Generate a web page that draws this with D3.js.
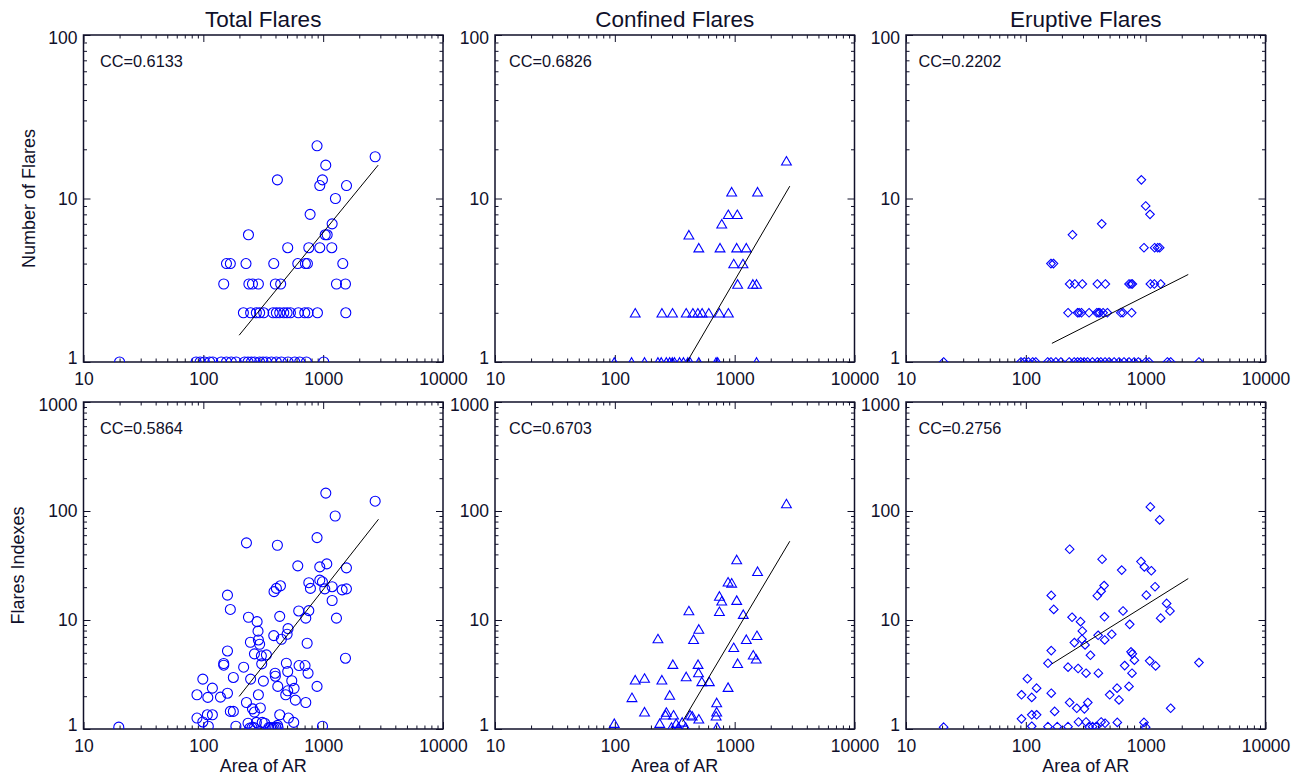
<!DOCTYPE html>
<html>
<head>
<meta charset="utf-8">
<script src="https://cdn.jsdelivr.net/npm/d3@7"></script>
<style>
body { margin: 0; background: #fff; }
text { font-family: "Liberation Sans", Arial, sans-serif; fill: #10102a; }
</style>
</head>
<body>
<div id="chart"></div>
<script>
// ---- data: [area of AR, value] ----
var columnTitles = ["Total Flares", "Confined Flares", "Eruptive Flares"];
var ccNumber = ["CC=0.6133", "CC=0.6826", "CC=0.2202"];
var ccIndex = ["CC=0.5864", "CC=0.6703", "CC=0.2756"];
var xMajor = [10, 100, 1000, 10000];
var yMajorNumber = [1, 10, 100];
var yMajorIndex = [1, 10, 100, 1000];

var totalNumber = [
  [20,1],[87,1],[94,1],[102,1],[113,1],[120,1],[141,1],[156,1],[171,1],[188,1],[221,1],[236,1],[252,1],
  [268,1],[295,1],[315,1],[336,1],[370,1],[407,1],[448,1],[509,1],[579,1],[637,1],[725,1],[1011,1],
  [216,2],[248,2],[277,2],[295,2],[319,2],[382,2],[407,2],[434,2],[469,2],[500,2],[533,2],[621,2],
  [702,2],[748,2],[896,2],[1545,2],
  [148,3],[240,3],[257,3],[288,3],[399,3],[442,3],[1291,3],[1535,3],
  [156,4],[168,4],[227,4],[387,4],[614,4],[711,4],[739,4],[1458,4],
  [506,5],[759,5],[937,5],[1180,5],
  [238,6],[1040,6],[1080,6],
  [1188,7],[778,8],[1266,10],[937,12],[1566,12],[415,13],[986,13],[1051,16],[2716,18],[889,21]
];
var confinedNumber = [
  [99,1],[138,1],[177,1],[229,1],[244,1],[269,1],[287,1],[302,1],[315,1],[347,1],[374,1],[407,1],
  [425,1],[502,1],[700,1],[722,1],[1523,1],
  [148,2],[247,2],[303,2],[394,2],[448,2],[493,2],[535,2],[608,2],[746,2],[886,2],
  [1059,3],[1419,3],[1523,3],
  [982,4],[1173,4],
  [502,5],[755,5],[1040,5],[1251,5],
  [415,6],[780,7],[885,8],[1052,8],[944,11],[1553,11],[2704,17]
];
var eruptiveNumber = [
  [20.6,1],[91,1],[97,1],[105,1],[114,1],[121,1],[152,1],[162,1],[178,1],[196,1],[230,1],[253,1],
  [270,1],[287,1],[306,1],[327,1],[359,1],[395,1],[422,1],[458,1],[495,1],[545,1],[599,1],[659,1],
  [726,1],[800,1],[869,1],[1000,1],[1066,1],[1517,1],[1616,1],[2783,1],
  [225,2],[270,2],[278,2],[291,2],[337,2],[391,2],[403,2],[414,2],[441,2],[479,2],[620,2],[647,2],[764,2],
  [232,3],[256,3],[296,3],[395,3],[461,3],[726,3],[755,3],[774,3],[1094,3],[1181,3],[1334,3],
  [162,4],[170,4],
  [968,5],[1188,5],[1259,5],[1309,5],
  [245,6],[430,7],[1087,8],[1000,9],[921,13]
];

var totalIndex = [
  [1052,146],[2716,123],[1260,90],[229,51],[415,48.5],[889,57],[614,31.4],[937,30.7],[1072,32.7],
  [1564,30.1],[759,22],[783,19.5],[937,23.2],[986,22.4],[1031,19.3],[1188,20.2],[1440,18.9],[1564,19.3],
  [1188,15.1],[389,18.2],[407,19.5],[440,20.6],[159,16.9],[168,12.5],[625,12.1],[759,12.2],[716,10.4],
  [1291,10.4],[238,10.6],[281,9.66],[434,10.8],[286,7.9],[509,8.33],[500,7.4],[448,6.66],[387,7.19],
  [247,6.25],[288,6.56],[295,5.99],[735,6.12],[159,5.2],[267,4.89],[305,4.69],[336,4.79],[307,3.96],
  [148,3.99],[148,3.85],[217,3.69],[493,4.01],[629,3.82],[706,3.82],[1535,4.46],[397,3.25],[399,3.05],
  [506,3.37],[748,3.25],[178,2.97],[248,2.87],[317,2.75],[547,2.77],[99,2.87],[119,2.37],[418,2.46],
  [572,2.36],[889,2.46],[506,2.24],[88.5,2.06],[109,1.95],[139,1.96],[159,2.13],[288,2.06],[487,2.06],
  [586,1.84],[716,1.75],[229,1.75],[257,1.53],[267,1.43],[299,1.56],[168,1.45],[178,1.45],[88.5,1.26],
  [108,1.35],[119,1.35],[434,1.35],[513,1.26],[568,1.15],[99,1.16],[110,1.06],[19.7,1.04],[187,1.06],
  [236,1.13],[277,1.15],[310,1.15],[325,1.13],[244,1.02],[255,1.03],[265,1.03],[352,1.03],[364,1.03],
  [377,1.02],[389,1.03],[402,1.04],[416,1.08],[420,1.03],[987,1.06]
];
var confinedIndex = [
  [2704,117],[1040,35.9],[1553,28],[881,22.4],[944,21.9],[746,16.6],[780,15.0],[1040,15.2],[415,12.2],
  [746,12.0],[1180,11.3],[502,8.27],[454,6.66],[229,6.75],[1251,6.66],[1535,7.24],[982,5.62],[1429,4.79],
  [1513,4.40],[305,3.93],[495,3.93],[1059,4.01],[394,3.03],[499,3.30],[532,2.73],[615,2.73],[148,2.83],
  [177,2.93],[247,2.83],[881,2.42],[139,1.95],[287,2.05],[708,1.75],[177,1.44],[269,1.43],[265,1.35],
  [309,1.35],[708,1.44],[700,1.32],[425,1.35],[442,1.32],[502,1.24],[99,1.13],[237,1.13],[325,1.13],
  [365,1.16],[297,1.04],[340,1.04],[390,1.04],[712,1.04]
];
var eruptiveIndex = [
  [1094,109],[1309,82.8],[232,44.6],[433,36.1],[631,28.7],[914,34.4],[975,30.7],[1115,28.3],[450,20.7],
  [425,18.4],[395,16.7],[163,16.8],[1197,20.2],[1013,16.9],[1496,14.2],[1595,12.1],[171,12.5],[647,12.1],
  [1334,10.4],[453,10.7],[243,10.6],[286,9.66],[736,9.13],[296,7.93],[521,7.40],[401,7.24],[455,6.56],
  [294,6.66],[254,6.21],[312,5.91],[163,5.24],[346,4.75],[755,5.10],[774,4.89],[805,4.28],[153,4.01],
  [1080,4.22],[1211,3.79],[2783,4.07],[668,3.82],[225,3.69],[273,3.59],[318,3.25],[403,3.25],[769,3.25],
  [103,2.89],[123,2.37],[577,2.37],[726,2.46],[92,2.06],[112,1.95],[163,2.13],[501,2.06],[599,1.85],
  [232,1.75],[329,1.75],[266,1.55],[308,1.53],[1616,1.55],[174,1.45],[112,1.35],[123,1.35],[92,1.24],
  [275,1.16],[318,1.16],[425,1.16],[458,1.13],[580,1.15],[968,1.15],[20.6,1.04],[112,1.06],[153,1.05],
  [183,1.05],[225,1.05],[337,1.05],[361,1.05],[386,1.05],[1000,1.04]
];

// fitted lines, end points [area, value]
var fitTotalNumber = [[199,1.458],[2877,16.0]];
var fitConfinedNumber = [[400,1.0],[2884,11.9]];
var fitEruptiveNumber = [[165,1.30],[2267,3.43]];
var fitTotalIndex = [[199,1.99],[2896,84]];
var fitConfinedIndex = [[367,1.17],[2884,52.8]];
var fitEruptiveIndex = [[165,3.96],[2267,24.0]];

// ---- layout ----
var totalWidth = 1302, totalHeight = 777;
var panelW = 359.5, panelH = 327;
var lefts = [83.5, 495, 906], tops = [35, 402];
var ccOffset = [16.5, 14, 12.5];
var ink = "#10102a", blue = "#0000ff";

var svg = d3.select("#chart").append("svg")
    .attr("width", totalWidth)
    .attr("height", totalHeight);

var markers = {
    circle: d3.symbol().type(d3.symbolCircle).size(Math.PI * 25)(),
    triangle: "M0,-4.3L4.9,4.2L-4.9,4.2Z",
    diamond: "M0,-4.3L4.3,0L0,4.3L-4.3,0Z"
};

var panels = [
    {col:0, row:0, data:totalNumber,    fit:fitTotalNumber,    yDomain:[1,100],  yMajor:yMajorNumber, cc:ccNumber[0], marker:"circle"},
    {col:1, row:0, data:confinedNumber, fit:fitConfinedNumber, yDomain:[1,100],  yMajor:yMajorNumber, cc:ccNumber[1], marker:"triangle"},
    {col:2, row:0, data:eruptiveNumber, fit:fitEruptiveNumber, yDomain:[1,100],  yMajor:yMajorNumber, cc:ccNumber[2], marker:"diamond"},
    {col:0, row:1, data:totalIndex,     fit:fitTotalIndex,     yDomain:[1,1000], yMajor:yMajorIndex,  cc:ccIndex[0],  marker:"circle"},
    {col:1, row:1, data:confinedIndex,  fit:fitConfinedIndex,  yDomain:[1,1000], yMajor:yMajorIndex,  cc:ccIndex[1],  marker:"triangle"},
    {col:2, row:1, data:eruptiveIndex,  fit:fitEruptiveIndex,  yDomain:[1,1000], yMajor:yMajorIndex,  cc:ccIndex[2],  marker:"diamond"}
];

function styleAxis(sel) {
    sel.select(".domain").remove();
    sel.selectAll(".tick line").attr("stroke", ink).attr("stroke-width", 1);
    sel.selectAll(".tick text")
        .attr("fill", ink)
        .style("font-size", "17.5px")
        .style("font-family", "'Liberation Sans', Arial, sans-serif");
}

panels.forEach(function(p, i) {
    var g = svg.append("g")
        .attr("transform", "translate(" + lefts[p.col] + "," + tops[p.row] + ")");

    var x = d3.scaleLog().domain([10, 10000]).range([0, panelW]);
    var y = d3.scaleLog().domain(p.yDomain).range([panelH, 0]);
    var xMinor = x.ticks().filter(function(v){ return xMajor.indexOf(v) < 0; });
    var yMinor = y.ticks().filter(function(v){ return p.yMajor.indexOf(v) < 0; });

    var clipId = "clip" + i;
    g.append("clipPath").attr("id", clipId)
        .append("rect").attr("width", panelW).attr("height", panelH);

    // minor ticks
    g.append("g").attr("transform", "translate(0," + panelH + ")")
        .call(d3.axisBottom(x).tickValues(xMinor).tickSize(-3.5).tickFormat("")).call(styleAxis);
    g.append("g")
        .call(d3.axisTop(x).tickValues(xMinor).tickSize(-3.5).tickFormat("")).call(styleAxis);
    g.append("g")
        .call(d3.axisLeft(y).tickValues(yMinor).tickSize(-3.5).tickFormat("")).call(styleAxis);
    g.append("g").attr("transform", "translate(" + panelW + ",0)")
        .call(d3.axisRight(y).tickValues(yMinor).tickSize(-3.5).tickFormat("")).call(styleAxis);

    // major ticks with labels
    g.append("g").attr("transform", "translate(0," + panelH + ")")
        .call(d3.axisBottom(x).tickValues(xMajor).tickSize(-7).tickPadding(10.5).tickFormat(d3.format("d")))
        .call(styleAxis);
    g.append("g")
        .call(d3.axisTop(x).tickValues(xMajor).tickSize(-7).tickFormat("")).call(styleAxis);
    var yAxisG = g.append("g")
        .call(d3.axisLeft(y).tickValues(p.yMajor).tickSize(-7).tickPadding(6).tickFormat(d3.format("d")))
        .call(styleAxis);
    // end labels sit a little inside the frame, as in the original
    yAxisG.selectAll(".tick text")
        .attr("y", function(d){
            if (d == p.yDomain[0]) return -4;
            if (d == p.yDomain[1]) return 3;
            return 0;
        });
    g.append("g").attr("transform", "translate(" + panelW + ",0)")
        .call(d3.axisRight(y).tickValues(p.yMajor).tickSize(-7).tickFormat("")).call(styleAxis);

    g.append("rect")
        .attr("width", panelW).attr("height", panelH)
        .attr("fill", "none").attr("stroke", ink).attr("stroke-width", 1.5);

    var plot = g.append("g").attr("clip-path", "url(#" + clipId + ")");

    plot.selectAll("path.pt")
        .data(p.data)
        .enter()
        .append("path")
        .attr("class", "pt")
        .attr("d", markers[p.marker])
        .attr("transform", function(d){ return "translate(" + x(d[0]) + "," + y(d[1]) + ")"; })
        .attr("fill", "none")
        .attr("stroke", blue)
        .attr("stroke-width", 1.1);

    var line = d3.line()
        .x(function(d){ return x(d[0]); })
        .y(function(d){ return y(d[1]); });
    plot.append("path")
        .attr("d", line(p.fit))
        .attr("fill", "none")
        .attr("stroke", "#000")
        .attr("stroke-width", 1);

    g.append("text")
        .attr("x", ccOffset[p.col])
        .attr("y", 31.5)
        .style("font-size", "16.3px")
        .text(p.cc);

    if (p.row == 0) {
        g.append("text")
            .attr("x", panelW / 2)
            .attr("y", -8)
            .attr("text-anchor", "middle")
            .style("font-size", "22.5px")
            .text(columnTitles[p.col]);
    } else {
        g.append("text")
            .attr("x", panelW / 2)
            .attr("y", panelH + 43)
            .attr("text-anchor", "middle")
            .style("font-size", "18px")
            .text("Area of AR");
    }
});

svg.append("text")
    .attr("transform", "translate(35," + (tops[0] + panelH / 2) + ") rotate(-90)")
    .attr("text-anchor", "middle")
    .style("font-size", "18px")
    .text("Number of Flares");
svg.append("text")
    .attr("transform", "translate(24," + (tops[1] + panelH / 2) + ") rotate(-90)")
    .attr("text-anchor", "middle")
    .style("font-size", "18px")
    .text("Flares Indexes");
</script>
</body>
</html>
